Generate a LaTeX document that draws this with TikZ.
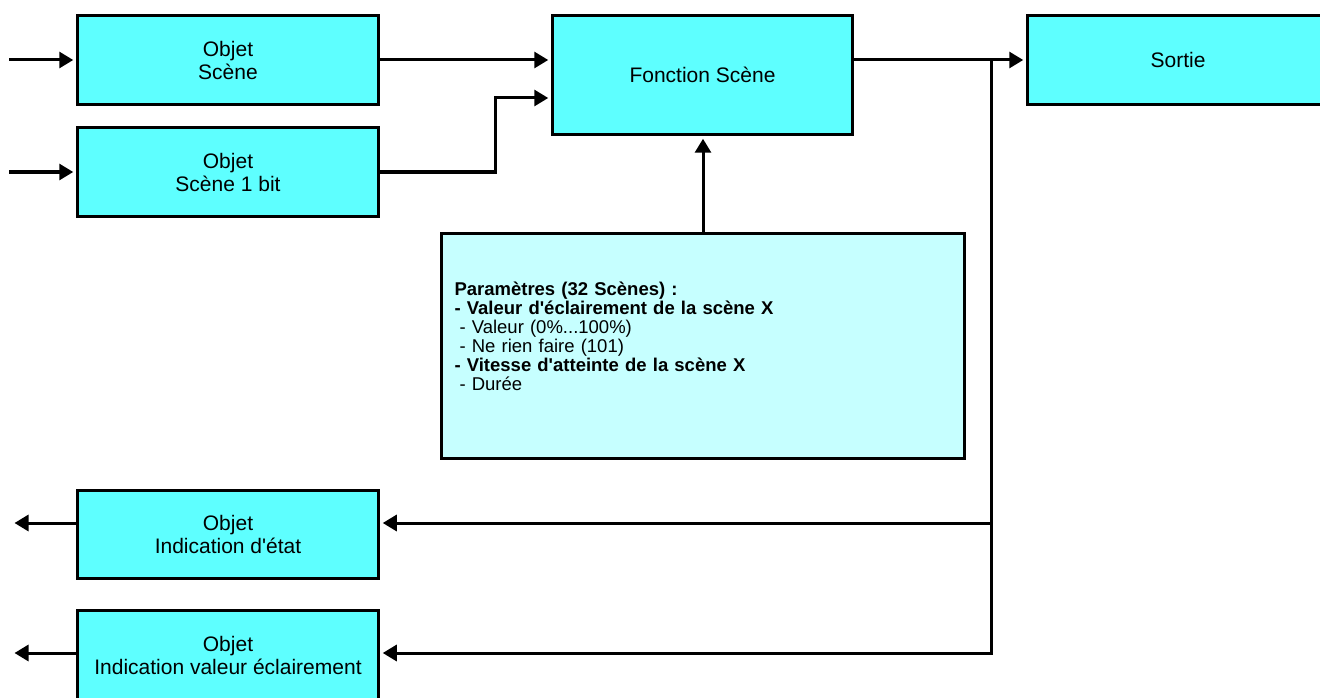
\documentclass[tikz,border=0pt]{standalone}
\usepackage{fontspec}
\setmainfont{Liberation Sans}
\usepackage{tikz}
\usetikzlibrary{arrows.meta}
\definecolor{boxcyan}{RGB}{94,255,255}
\definecolor{paramcyan}{RGB}{198,255,255}

\begin{document}
\begin{tikzpicture}[x=1pt,y=-1pt,>={Triangle[length=14pt,width=16pt]},
  block/.style={rectangle,draw,line width=3.5pt,fill=boxcyan,minimum width=301pt,minimum height=89pt,inner sep=0pt,align=center,font=\fontsize{21pt}{23pt}\selectfont},
  param/.style={rectangle,draw,line width=3.5pt,fill=paramcyan,minimum width=523pt,minimum height=225pt,inner sep=0pt,text width=497pt,align=left,font=\fontsize{18.5pt}{19pt}\selectfont},
  flow/.style={->,line width=3pt,shorten >=2.5pt}]

  \useasboundingbox (0,0) rectangle (1320,698);

  \node[block] (objscene) at (228,60) {Objet\\Scène};
  \node[block] (objbit) [below of=objscene,node distance=112pt] {Objet\\Scène 1 bit};
  \node[block,minimum width=300pt,minimum height=119pt] (fonction) at (702.5,75) {Fonction Scène};
  \node[block] (sortie) at (1178,60) {Sortie};
  \node[param] (param) at (703,346) {\textbf{Paramètres (32 Scènes) :}\\
    \textbf{- Valeur d\textquotesingle éclairement de la scène X}\\
    \hspace*{5pt}- Valeur (0\%...100\%)\\
    \hspace*{5pt}- Ne rien faire (101)\\
    \textbf{- Vitesse d\textquotesingle atteinte de la scène X}\\
    \hspace*{5pt}- Durée\\
    \mbox{}};
  \node[block,minimum height=88pt] (indetat) at (228,534.5) {Objet\\Indication d\textquotesingle état};
  \node[block] (indval) [below of=indetat,node distance=120.5pt] {Objet\\Indication valeur éclairement};

  \coordinate (in1) at (9,60);
  \coordinate (in2) at (9,172);
  \coordinate (out1) at (12,523);
  \coordinate (out2) at (12,653);
  \coordinate (split) at (991,60);

  % entrees
  \draw[flow] (in1) -- (objscene.west);
  \draw[flow] (in2) -- (objbit.west);
  \draw[flow] (objscene.east) -- ([yshift=15pt]fonction.west);
  \draw[flow] (objbit.east) -- ++(115,0) |- ([yshift=-23pt]fonction.west);
  \draw[flow] (param.north) -- (param.north |- fonction.south);

  % sorties
  \draw[flow] ([yshift=15pt]fonction.east) -- (sortie.west);
  \draw[flow] (split) |- ([yshift=11.5pt]indetat.east);
  \draw[flow] (split) |- ([yshift=2pt]indval.east);
  \draw[flow] ([yshift=11.5pt]indetat.west) -- (out1);
  \draw[flow] ([yshift=2pt]indval.west) -- (out2);
\end{tikzpicture}
\end{document}
